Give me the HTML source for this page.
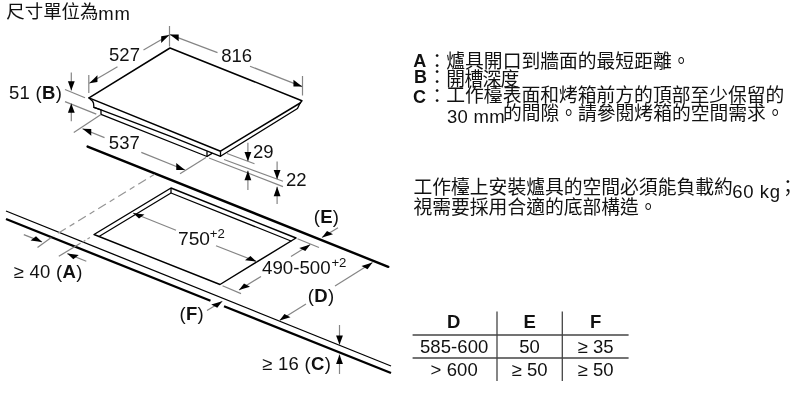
<!DOCTYPE html>
<html><head><meta charset="utf-8"><title>Dimensions</title>
<style>
html,body{margin:0;padding:0;background:#fff;}
body{width:800px;height:400px;overflow:hidden;font-family:"Liberation Sans",sans-serif;}
svg{display:block;will-change:transform;}
svg text{font-family:"Liberation Sans","Noto Sans CJK TC",sans-serif;fill:#111;}
</style></head><body>
<svg width="800" height="400" viewBox="0 0 800 400">
<rect width="800" height="400" fill="#fff"/>
<text x="6.3" y="17.6" font-size="18.46" text-anchor="start" font-weight="normal">尺寸單位為</text>
<text x="98.3" y="19.5" font-size="18.5" text-anchor="start" font-weight="normal" letter-spacing="0.9">mm</text>
<polyline points="89,97.9 170,48 301.9,100.7 300.2,103.0 220.5,151.2 89,97.9" fill="none" stroke="#000" stroke-width="1.5" stroke-linejoin="round" stroke-linecap="round" />
<polyline points="89,97.9 92.4,100.9 93.5,103.1 93.9,107.3 101,109.9 101,114.4" fill="none" stroke="#000" stroke-width="1.3" stroke-linejoin="round" stroke-linecap="round" />
<polyline points="93.9,107.3 101,109.9 140,124.6 170,136.2 220.5,156.3 297.5,108.5 299.3,104.8 300.2,103.0" fill="none" stroke="#000" stroke-width="1.3" stroke-linejoin="round" stroke-linecap="round" />
<polyline points="101,114.4 207,156.5 212,153.4" fill="none" stroke="#000" stroke-width="1.3" stroke-linejoin="round" stroke-linecap="round" />
<line x1="207" y1="151.2" x2="207" y2="156.5" stroke="#000" stroke-width="1.3" />
<line x1="220.5" y1="151.2" x2="220.5" y2="156.5" stroke="#000" stroke-width="1.3" />
<line x1="88.8" y1="75" x2="88.8" y2="93" stroke="#858585" stroke-width="1.2" />
<line x1="169.5" y1="26" x2="169.5" y2="46.5" stroke="#858585" stroke-width="1.2" />
<line x1="117.5" y1="66.8" x2="89.3" y2="83.3" stroke="#858585" stroke-width="1.2" /><polygon points="89.30,83.30 97.41,81.95 97.41,75.15" fill="#000"/>
<line x1="143.5" y1="50.0" x2="169.3" y2="35.0" stroke="#858585" stroke-width="1.2" /><polygon points="169.30,35.00 161.17,43.12 161.17,36.32" fill="#000"/>
<text x="124.5" y="61.2" font-size="18.5" text-anchor="middle" font-weight="normal" >527</text>
<line x1="302.5" y1="76" x2="302.5" y2="95.5" stroke="#858585" stroke-width="1.2" />
<line x1="217.5" y1="52.6" x2="169.9" y2="34.6" stroke="#858585" stroke-width="1.2" /><polygon points="169.90,34.60 178.69,41.32 178.69,34.52" fill="#000"/>
<line x1="250" y1="66.2" x2="302.2" y2="86.6" stroke="#858585" stroke-width="1.2" /><polygon points="302.20,86.60 293.44,86.58 293.44,79.78" fill="#000"/>
<text x="236.7" y="62" font-size="18.5" text-anchor="middle" font-weight="normal" >816</text>
<line x1="65" y1="89.5" x2="85" y2="97.7" stroke="#858585" stroke-width="1.2" />
<line x1="65" y1="101.6" x2="96.3" y2="114.1" stroke="#858585" stroke-width="1.2" />
<line x1="71.3" y1="72.5" x2="71.3" y2="90.6" stroke="#858585" stroke-width="1.2" /><polygon points="71.30,90.60 67.90,81.20 74.70,81.20" fill="#000"/>
<line x1="71.3" y1="121.3" x2="71.3" y2="103.4" stroke="#858585" stroke-width="1.2" /><polygon points="71.30,103.40 74.70,112.80 67.90,112.80" fill="#000"/>
<text x="9" y="99.3" font-size="18.5" text-anchor="start" font-weight="normal" letter-spacing="0.3">51 (<tspan font-weight="bold">B</tspan>)</text>
<line x1="101" y1="114.4" x2="73.8" y2="132.5" stroke="#858585" stroke-width="1.2" />
<line x1="206" y1="157.5" x2="180" y2="173.8" stroke="#858585" stroke-width="1.2" />
<line x1="104.5" y1="137.6" x2="82.5" y2="128.8" stroke="#858585" stroke-width="1.2" /><polygon points="82.50,128.80 91.23,135.69 91.23,128.89" fill="#000"/>
<line x1="141.3" y1="152.4" x2="185" y2="170" stroke="#858585" stroke-width="1.2" /><polygon points="185.00,170.00 176.28,169.89 176.28,163.09" fill="#000"/>
<text x="124.3" y="149.2" font-size="18.5" text-anchor="middle" font-weight="normal" >537</text>
<line x1="227" y1="153.5" x2="254.5" y2="163.7" stroke="#858585" stroke-width="1.2" />
<line x1="224" y1="159.5" x2="283" y2="181.3" stroke="#858585" stroke-width="1.2" />
<line x1="209" y1="158" x2="283" y2="186.6" stroke="#858585" stroke-width="1.2" />
<line x1="247.9" y1="142.7" x2="247.9" y2="161.3" stroke="#858585" stroke-width="1.2" /><polygon points="247.90,161.30 244.50,151.90 251.30,151.90" fill="#000"/>
<line x1="247.9" y1="190" x2="247.9" y2="170.8" stroke="#858585" stroke-width="1.2" /><polygon points="247.90,170.80 251.30,180.20 244.50,180.20" fill="#000"/>
<line x1="277.1" y1="161.5" x2="277.1" y2="179.3" stroke="#858585" stroke-width="1.2" /><polygon points="277.10,179.30 273.70,169.90 280.50,169.90" fill="#000"/>
<line x1="277.1" y1="204" x2="277.1" y2="186.8" stroke="#858585" stroke-width="1.2" /><polygon points="277.10,186.80 280.50,196.20 273.70,196.20" fill="#000"/>
<text x="253" y="157.6" font-size="18.5" text-anchor="start" font-weight="normal" >29</text>
<text x="286" y="185.6" font-size="18.5" text-anchor="start" font-weight="normal" >22</text>
<line x1="87.6" y1="146.6" x2="388.3" y2="266.8" stroke="#000" stroke-width="2.4" stroke-linecap="round"/>
<line x1="6" y1="211" x2="391" y2="366" stroke="#000" stroke-width="1.3" />
<line x1="6" y1="219" x2="210.5" y2="300.8" stroke="#000" stroke-width="2.3" />
<line x1="224" y1="306.2" x2="391" y2="373" stroke="#000" stroke-width="2.3" />
<line x1="154.5" y1="174.3" x2="54" y2="235.8" stroke="#959595" stroke-width="1.2" stroke-dasharray="5.5 4.5 9 4.5"/>
<line x1="90" y1="237.5" x2="80" y2="243.6" stroke="#9a9a9a" stroke-width="1.2" stroke-dasharray="3 2.5"/>
<polyline points="171,188 296,238 220,284.5 94,234.5 171,188" fill="none" stroke="#000" stroke-width="1.45" stroke-linejoin="round" stroke-linecap="round" />
<polyline points="99,236.5 171,193 291,241" fill="none" stroke="#000" stroke-width="1.2" stroke-linejoin="round" stroke-linecap="round" />
<line x1="171" y1="188" x2="171" y2="193" stroke="#000" stroke-width="1.3" />
<line x1="51.3" y1="237.5" x2="37.5" y2="247.5" stroke="#858585" stroke-width="1.2" />
<line x1="80" y1="243.6" x2="58.8" y2="256.3" stroke="#858585" stroke-width="1.2" />
<line x1="23.8" y1="234.6" x2="42" y2="241.9" stroke="#858585" stroke-width="1.2" /><polygon points="42.00,241.90 30.56,240.44 36.00,236.36" fill="#000"/>
<line x1="86.3" y1="261.2" x2="67.3" y2="253.6" stroke="#858585" stroke-width="1.2" /><polygon points="67.30,253.60 73.31,259.13 78.75,255.05" fill="#000"/>
<text x="13.5" y="278.1" font-size="18.5" text-anchor="start" font-weight="normal" letter-spacing="0.3">≥ 40 (<tspan font-weight="bold">A</tspan>)</text>
<line x1="176" y1="230.3" x2="133" y2="213" stroke="#858585" stroke-width="1.2" /><polygon points="133.00,213.00 139.00,218.55 144.44,214.47" fill="#000"/>
<line x1="216" y1="245.7" x2="256.5" y2="261.6" stroke="#858585" stroke-width="1.2" /><polygon points="256.50,261.60 245.03,260.20 250.47,256.12" fill="#000"/>
<text x="178.0" y="244.6" font-size="19.2" text-anchor="start" font-weight="normal" >750<tspan font-size="13.2" dx="-0.3" dy="-7.0">+2</tspan></text>
<line x1="297.5" y1="238.8" x2="319" y2="247.5" stroke="#858585" stroke-width="1.2" />
<line x1="222.5" y1="285.8" x2="241" y2="293.6" stroke="#858585" stroke-width="1.2" />
<line x1="291" y1="256.4" x2="310.3" y2="244.6" stroke="#858585" stroke-width="1.2" /><polygon points="310.30,244.60 305.30,251.07 299.26,247.93" fill="#000"/>
<line x1="261" y1="276.5" x2="239" y2="290" stroke="#858585" stroke-width="1.2" /><polygon points="239.00,290.00 250.03,286.65 244.00,283.52" fill="#000"/>
<text x="262" y="274.4" font-size="18.7" text-anchor="start" font-weight="normal" >490-500<tspan font-size="13.2" dx="0.8" dy="-7.0">+2</tspan></text>
<line x1="338" y1="227.8" x2="322" y2="237.6" stroke="#858585" stroke-width="1.2" /><polygon points="322.00,237.60 333.03,234.26 327.00,231.12" fill="#000"/>
<text x="313.7" y="222.6" font-size="18.5" text-anchor="start" font-weight="normal" letter-spacing="0.3">(<tspan font-weight="bold">E</tspan>)</text>
<line x1="335" y1="286" x2="372.5" y2="262.6" stroke="#858585" stroke-width="1.2" /><polygon points="372.50,262.60 367.54,269.14 361.51,266.01" fill="#000"/>
<line x1="306" y1="304" x2="279.5" y2="320.6" stroke="#858585" stroke-width="1.2" /><polygon points="279.50,320.60 290.48,317.18 284.45,314.04" fill="#000"/>
<text x="307.8" y="301.6" font-size="18.5" text-anchor="start" font-weight="normal" letter-spacing="0.3">(<tspan font-weight="bold">D</tspan>)</text>
<line x1="207" y1="310.6" x2="222.3" y2="301.3" stroke="#858585" stroke-width="1.2" /><polygon points="222.30,301.30 217.28,307.75 211.25,304.61" fill="#000"/>
<text x="179.5" y="320.2" font-size="18.5" text-anchor="start" font-weight="normal" letter-spacing="0.3">(<tspan font-weight="bold">F</tspan>)</text>
<line x1="339.5" y1="325" x2="339.5" y2="344.8" stroke="#858585" stroke-width="1.2" /><polygon points="339.50,344.80 336.10,335.40 342.90,335.40" fill="#000"/>
<line x1="339.5" y1="374" x2="339.5" y2="354.6" stroke="#858585" stroke-width="1.2" /><polygon points="339.50,354.60 342.90,364.00 336.10,364.00" fill="#000"/>
<text x="262" y="369.5" font-size="18.5" text-anchor="start" font-weight="normal" letter-spacing="0.3">≥ 16 (<tspan font-weight="bold">C</tspan>)</text>
<text x="413.3" y="66.9" font-size="18" text-anchor="start" font-weight="bold" >A</text>
<text x="413.9" y="82.7" font-size="18" text-anchor="start" font-weight="bold" >B</text>
<text x="413.1" y="102.7" font-size="18" text-anchor="start" font-weight="bold" >C</text>
<text x="427.8" y="67.6" font-size="18.8" text-anchor="start" font-weight="normal">：</text>
<text x="427.8" y="84.3" font-size="18.8" text-anchor="start" font-weight="normal">：</text>
<text x="427.8" y="102.8" font-size="18.8" text-anchor="start" font-weight="normal">：</text>
<text x="446.3" y="67.6" font-size="18.8" text-anchor="start" font-weight="normal">爐具開口到牆面的最短距離。</text>
<text x="446.3" y="85.6" font-size="18.8" text-anchor="start" font-weight="normal" letter-spacing="-0.7">開槽深度</text>
<text x="446.3" y="101.6" font-size="18.8" text-anchor="start" font-weight="normal">工作檯表面和烤箱前方的頂部至少保留的</text>
<text x="447.0" y="122.6" font-size="18.5" text-anchor="start" font-weight="normal" letter-spacing="0.25">30 mm</text>
<text x="502.9" y="120.3" font-size="18.8" text-anchor="start" font-weight="normal">的間隙。請參閱烤箱的空間需求。</text>
<text x="413.5" y="194.3" font-size="18.8" text-anchor="start" font-weight="normal">工作檯上安裝爐具的空間必須能負載約</text>
<text x="732.3" y="197.6" font-size="18.5" text-anchor="start" font-weight="normal" letter-spacing="0.6">60 kg</text>
<text x="778.5" y="194.3" font-size="18.8" text-anchor="start" font-weight="normal">；</text>
<text x="413.5" y="214.1" font-size="18.8" text-anchor="start" font-weight="normal">視需要採用合適的底部構造。</text>
<line x1="412.6" y1="335" x2="628.6" y2="335" stroke="#444" stroke-width="1.3" />
<line x1="412.6" y1="358" x2="628.6" y2="358" stroke="#444" stroke-width="1.3" />
<line x1="497" y1="311.4" x2="497" y2="381" stroke="#444" stroke-width="1.3" />
<line x1="562.3" y1="311.4" x2="562.3" y2="381" stroke="#444" stroke-width="1.3" />
<text x="453.6" y="327.8" font-size="18.5" text-anchor="middle" font-weight="bold" >D</text>
<text x="529.6" y="327.8" font-size="18.5" text-anchor="middle" font-weight="bold" >E</text>
<text x="595.6" y="327.8" font-size="18.5" text-anchor="middle" font-weight="bold" >F</text>
<text x="454.2" y="353.4" font-size="18.5" text-anchor="middle" font-weight="normal" letter-spacing="0.1">585-600</text>
<text x="529.6" y="353.4" font-size="18.5" text-anchor="middle" font-weight="normal" letter-spacing="0.1">50</text>
<text x="595.6" y="353.4" font-size="18.5" text-anchor="middle" font-weight="normal" letter-spacing="0.1">≥ 35</text>
<text x="454.2" y="376.2" font-size="18.5" text-anchor="middle" font-weight="normal" letter-spacing="0.1">&gt; 600</text>
<text x="529.6" y="376.2" font-size="18.5" text-anchor="middle" font-weight="normal" letter-spacing="0.1">≥ 50</text>
<text x="595.6" y="376.2" font-size="18.5" text-anchor="middle" font-weight="normal" letter-spacing="0.1">≥ 50</text>
</svg>
</body></html>
